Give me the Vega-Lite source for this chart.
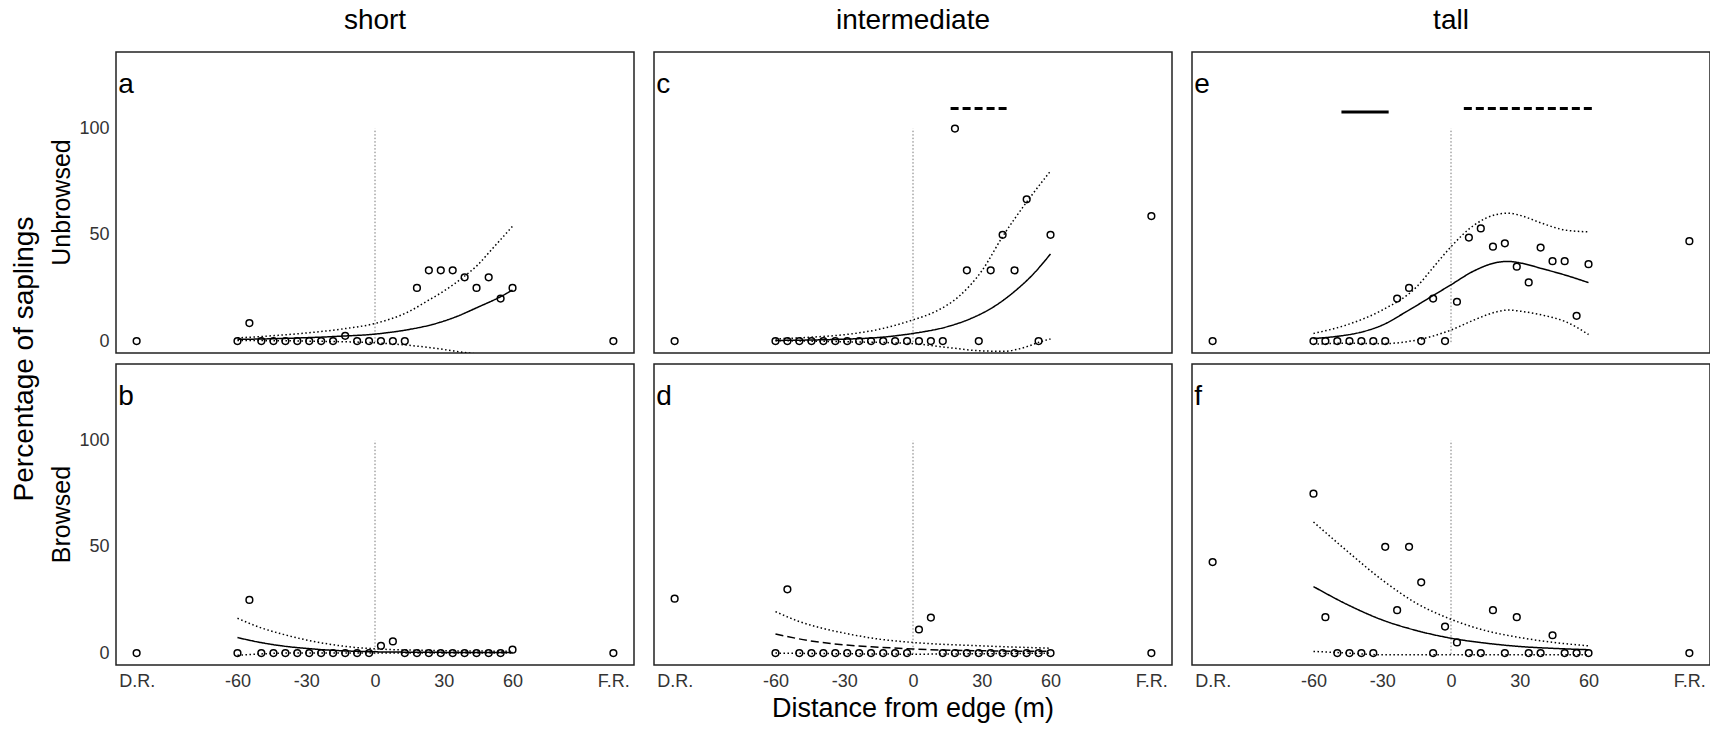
{
"$schema": "https://vega.github.io/schema/vega-lite/v6.json",
"padding": {"left": 10, "top": 6, "right": 2, "bottom": 2},
"background": "white",
"config": {
  "font": "Liberation Sans",
  "view": {"stroke": "#222", "strokeWidth": 1.5},
  "axis": {"grid": false, "ticks": false, "domain": false, "labelFont": "Liberation Sans", "labelFontSize": 18, "labelColor": "#333", "title": null}
},
"data": {"values": [
{"h":"short","b":"Unbrowsed","k":"p","x":-104,"y":0},{"h":"short","b":"Unbrowsed","k":"p","x":-60,"y":0},{"h":"short","b":"Unbrowsed","k":"p","x":-54.8,"y":8.5},{"h":"short","b":"Unbrowsed","k":"p","x":-49.6,"y":0},{"h":"short","b":"Unbrowsed","k":"p","x":-44.3,"y":0},{"h":"short","b":"Unbrowsed","k":"p","x":-39.1,"y":0},{"h":"short","b":"Unbrowsed","k":"p","x":-33.9,"y":0},{"h":"short","b":"Unbrowsed","k":"p","x":-28.7,"y":0},{"h":"short","b":"Unbrowsed","k":"p","x":-23.5,"y":0},{"h":"short","b":"Unbrowsed","k":"p","x":-18.3,"y":0},{"h":"short","b":"Unbrowsed","k":"p","x":-13,"y":2.5},{"h":"short","b":"Unbrowsed","k":"p","x":-7.8,"y":0},{"h":"short","b":"Unbrowsed","k":"p","x":-2.6,"y":0},{"h":"short","b":"Unbrowsed","k":"p","x":2.6,"y":0},{"h":"short","b":"Unbrowsed","k":"p","x":7.8,"y":0},{"h":"short","b":"Unbrowsed","k":"p","x":13,"y":0},{"h":"short","b":"Unbrowsed","k":"p","x":18.3,"y":25},{"h":"short","b":"Unbrowsed","k":"p","x":23.5,"y":33.3},{"h":"short","b":"Unbrowsed","k":"p","x":28.7,"y":33.3},{"h":"short","b":"Unbrowsed","k":"p","x":33.9,"y":33.3},{"h":"short","b":"Unbrowsed","k":"p","x":39.1,"y":30},{"h":"short","b":"Unbrowsed","k":"p","x":44.3,"y":25},{"h":"short","b":"Unbrowsed","k":"p","x":49.6,"y":30},{"h":"short","b":"Unbrowsed","k":"p","x":54.8,"y":20},{"h":"short","b":"Unbrowsed","k":"p","x":60,"y":25},{"h":"short","b":"Unbrowsed","k":"p","x":104,"y":0},
{"h":"short","b":"Browsed","k":"p","x":-104,"y":0},{"h":"short","b":"Browsed","k":"p","x":-60,"y":0},{"h":"short","b":"Browsed","k":"p","x":-54.8,"y":25},{"h":"short","b":"Browsed","k":"p","x":-49.6,"y":0},{"h":"short","b":"Browsed","k":"p","x":-44.3,"y":0},{"h":"short","b":"Browsed","k":"p","x":-39.1,"y":0},{"h":"short","b":"Browsed","k":"p","x":-33.9,"y":0},{"h":"short","b":"Browsed","k":"p","x":-28.7,"y":0},{"h":"short","b":"Browsed","k":"p","x":-23.5,"y":0},{"h":"short","b":"Browsed","k":"p","x":-18.3,"y":0},{"h":"short","b":"Browsed","k":"p","x":-13,"y":0},{"h":"short","b":"Browsed","k":"p","x":-7.8,"y":0},{"h":"short","b":"Browsed","k":"p","x":-2.6,"y":0},{"h":"short","b":"Browsed","k":"p","x":2.6,"y":3.4},{"h":"short","b":"Browsed","k":"p","x":7.8,"y":5.5},{"h":"short","b":"Browsed","k":"p","x":13,"y":0},{"h":"short","b":"Browsed","k":"p","x":18.3,"y":0},{"h":"short","b":"Browsed","k":"p","x":23.5,"y":0},{"h":"short","b":"Browsed","k":"p","x":28.7,"y":0},{"h":"short","b":"Browsed","k":"p","x":33.9,"y":0},{"h":"short","b":"Browsed","k":"p","x":39.1,"y":0},{"h":"short","b":"Browsed","k":"p","x":44.3,"y":0},{"h":"short","b":"Browsed","k":"p","x":49.6,"y":0},{"h":"short","b":"Browsed","k":"p","x":54.8,"y":0},{"h":"short","b":"Browsed","k":"p","x":60,"y":1.6},{"h":"short","b":"Browsed","k":"p","x":104,"y":0},
{"h":"intermediate","b":"Unbrowsed","k":"p","x":-104,"y":0},{"h":"intermediate","b":"Unbrowsed","k":"p","x":-60,"y":0},{"h":"intermediate","b":"Unbrowsed","k":"p","x":-54.8,"y":0},{"h":"intermediate","b":"Unbrowsed","k":"p","x":-49.6,"y":0},{"h":"intermediate","b":"Unbrowsed","k":"p","x":-44.3,"y":0},{"h":"intermediate","b":"Unbrowsed","k":"p","x":-39.1,"y":0},{"h":"intermediate","b":"Unbrowsed","k":"p","x":-33.9,"y":0},{"h":"intermediate","b":"Unbrowsed","k":"p","x":-28.7,"y":0},{"h":"intermediate","b":"Unbrowsed","k":"p","x":-23.5,"y":0},{"h":"intermediate","b":"Unbrowsed","k":"p","x":-18.3,"y":0},{"h":"intermediate","b":"Unbrowsed","k":"p","x":-13,"y":0},{"h":"intermediate","b":"Unbrowsed","k":"p","x":-7.8,"y":0},{"h":"intermediate","b":"Unbrowsed","k":"p","x":-2.6,"y":0},{"h":"intermediate","b":"Unbrowsed","k":"p","x":2.6,"y":0},{"h":"intermediate","b":"Unbrowsed","k":"p","x":7.8,"y":0},{"h":"intermediate","b":"Unbrowsed","k":"p","x":13,"y":0},{"h":"intermediate","b":"Unbrowsed","k":"p","x":18.3,"y":100},{"h":"intermediate","b":"Unbrowsed","k":"p","x":23.5,"y":33.3},{"h":"intermediate","b":"Unbrowsed","k":"p","x":28.7,"y":0},{"h":"intermediate","b":"Unbrowsed","k":"p","x":33.9,"y":33.3},{"h":"intermediate","b":"Unbrowsed","k":"p","x":39.1,"y":50},{"h":"intermediate","b":"Unbrowsed","k":"p","x":44.3,"y":33.3},{"h":"intermediate","b":"Unbrowsed","k":"p","x":49.6,"y":66.7},{"h":"intermediate","b":"Unbrowsed","k":"p","x":54.8,"y":0},{"h":"intermediate","b":"Unbrowsed","k":"p","x":60,"y":50},{"h":"intermediate","b":"Unbrowsed","k":"p","x":104,"y":58.8},
{"h":"intermediate","b":"Browsed","k":"p","x":-104,"y":25.6},{"h":"intermediate","b":"Browsed","k":"p","x":-60,"y":0},{"h":"intermediate","b":"Browsed","k":"p","x":-54.8,"y":30},{"h":"intermediate","b":"Browsed","k":"p","x":-49.6,"y":0},{"h":"intermediate","b":"Browsed","k":"p","x":-44.3,"y":0},{"h":"intermediate","b":"Browsed","k":"p","x":-39.1,"y":0},{"h":"intermediate","b":"Browsed","k":"p","x":-33.9,"y":0},{"h":"intermediate","b":"Browsed","k":"p","x":-28.7,"y":0},{"h":"intermediate","b":"Browsed","k":"p","x":-23.5,"y":0},{"h":"intermediate","b":"Browsed","k":"p","x":-18.3,"y":0},{"h":"intermediate","b":"Browsed","k":"p","x":-13,"y":0},{"h":"intermediate","b":"Browsed","k":"p","x":-7.8,"y":0},{"h":"intermediate","b":"Browsed","k":"p","x":-2.6,"y":0},{"h":"intermediate","b":"Browsed","k":"p","x":2.6,"y":11.1},{"h":"intermediate","b":"Browsed","k":"p","x":7.8,"y":16.7},{"h":"intermediate","b":"Browsed","k":"p","x":13,"y":0},{"h":"intermediate","b":"Browsed","k":"p","x":18.3,"y":0},{"h":"intermediate","b":"Browsed","k":"p","x":23.5,"y":0},{"h":"intermediate","b":"Browsed","k":"p","x":28.7,"y":0},{"h":"intermediate","b":"Browsed","k":"p","x":33.9,"y":0},{"h":"intermediate","b":"Browsed","k":"p","x":39.1,"y":0},{"h":"intermediate","b":"Browsed","k":"p","x":44.3,"y":0},{"h":"intermediate","b":"Browsed","k":"p","x":49.6,"y":0},{"h":"intermediate","b":"Browsed","k":"p","x":54.8,"y":0},{"h":"intermediate","b":"Browsed","k":"p","x":60,"y":0},{"h":"intermediate","b":"Browsed","k":"p","x":104,"y":0},
{"h":"tall","b":"Unbrowsed","k":"p","x":-104,"y":0},{"h":"tall","b":"Unbrowsed","k":"p","x":-60,"y":0},{"h":"tall","b":"Unbrowsed","k":"p","x":-54.8,"y":0},{"h":"tall","b":"Unbrowsed","k":"p","x":-49.6,"y":0},{"h":"tall","b":"Unbrowsed","k":"p","x":-44.3,"y":0},{"h":"tall","b":"Unbrowsed","k":"p","x":-39.1,"y":0},{"h":"tall","b":"Unbrowsed","k":"p","x":-33.9,"y":0},{"h":"tall","b":"Unbrowsed","k":"p","x":-28.7,"y":0},{"h":"tall","b":"Unbrowsed","k":"p","x":-23.5,"y":20},{"h":"tall","b":"Unbrowsed","k":"p","x":-18.3,"y":25},{"h":"tall","b":"Unbrowsed","k":"p","x":-13,"y":0},{"h":"tall","b":"Unbrowsed","k":"p","x":-7.8,"y":20},{"h":"tall","b":"Unbrowsed","k":"p","x":-2.6,"y":0},{"h":"tall","b":"Unbrowsed","k":"p","x":2.6,"y":18.5},{"h":"tall","b":"Unbrowsed","k":"p","x":7.8,"y":48.7},{"h":"tall","b":"Unbrowsed","k":"p","x":13,"y":53},{"h":"tall","b":"Unbrowsed","k":"p","x":18.3,"y":44.4},{"h":"tall","b":"Unbrowsed","k":"p","x":23.5,"y":46},{"h":"tall","b":"Unbrowsed","k":"p","x":28.7,"y":35},{"h":"tall","b":"Unbrowsed","k":"p","x":33.9,"y":27.6},{"h":"tall","b":"Unbrowsed","k":"p","x":39.1,"y":44},{"h":"tall","b":"Unbrowsed","k":"p","x":44.3,"y":37.6},{"h":"tall","b":"Unbrowsed","k":"p","x":49.6,"y":37.6},{"h":"tall","b":"Unbrowsed","k":"p","x":54.8,"y":11.9},{"h":"tall","b":"Unbrowsed","k":"p","x":60,"y":36.2},{"h":"tall","b":"Unbrowsed","k":"p","x":104,"y":47},
{"h":"tall","b":"Browsed","k":"p","x":-104,"y":42.8},{"h":"tall","b":"Browsed","k":"p","x":-60,"y":75},{"h":"tall","b":"Browsed","k":"p","x":-54.8,"y":16.9},{"h":"tall","b":"Browsed","k":"p","x":-49.6,"y":0},{"h":"tall","b":"Browsed","k":"p","x":-44.3,"y":0},{"h":"tall","b":"Browsed","k":"p","x":-39.1,"y":0},{"h":"tall","b":"Browsed","k":"p","x":-33.9,"y":0},{"h":"tall","b":"Browsed","k":"p","x":-28.7,"y":50},{"h":"tall","b":"Browsed","k":"p","x":-23.5,"y":20.2},{"h":"tall","b":"Browsed","k":"p","x":-18.3,"y":50},{"h":"tall","b":"Browsed","k":"p","x":-13,"y":33.3},{"h":"tall","b":"Browsed","k":"p","x":-7.8,"y":0},{"h":"tall","b":"Browsed","k":"p","x":-2.6,"y":12.5},{"h":"tall","b":"Browsed","k":"p","x":2.6,"y":5},{"h":"tall","b":"Browsed","k":"p","x":7.8,"y":0},{"h":"tall","b":"Browsed","k":"p","x":13,"y":0},{"h":"tall","b":"Browsed","k":"p","x":18.3,"y":20.2},{"h":"tall","b":"Browsed","k":"p","x":23.5,"y":0},{"h":"tall","b":"Browsed","k":"p","x":28.7,"y":16.9},{"h":"tall","b":"Browsed","k":"p","x":33.9,"y":0},{"h":"tall","b":"Browsed","k":"p","x":39.1,"y":0},{"h":"tall","b":"Browsed","k":"p","x":44.3,"y":8.4},{"h":"tall","b":"Browsed","k":"p","x":49.6,"y":0},{"h":"tall","b":"Browsed","k":"p","x":54.8,"y":0},{"h":"tall","b":"Browsed","k":"p","x":60,"y":0},{"h":"tall","b":"Browsed","k":"p","x":104,"y":0},

{"h":"short","b":"Unbrowsed","k":"c","s":"fit","st":"solid","x":-60,"y":0.8},{"h":"short","b":"Unbrowsed","k":"c","s":"fit","st":"solid","x":-45,"y":1.1},{"h":"short","b":"Unbrowsed","k":"c","s":"fit","st":"solid","x":-30,"y":1.6},{"h":"short","b":"Unbrowsed","k":"c","s":"fit","st":"solid","x":-15,"y":2.3},{"h":"short","b":"Unbrowsed","k":"c","s":"fit","st":"solid","x":0,"y":3.3},{"h":"short","b":"Unbrowsed","k":"c","s":"fit","st":"solid","x":15,"y":5.5},{"h":"short","b":"Unbrowsed","k":"c","s":"fit","st":"solid","x":25,"y":7.8},{"h":"short","b":"Unbrowsed","k":"c","s":"fit","st":"solid","x":35,"y":11.3},{"h":"short","b":"Unbrowsed","k":"c","s":"fit","st":"solid","x":45,"y":16},{"h":"short","b":"Unbrowsed","k":"c","s":"fit","st":"solid","x":55,"y":21},{"h":"short","b":"Unbrowsed","k":"c","s":"fit","st":"solid","x":60,"y":24},
{"h":"short","b":"Unbrowsed","k":"c","s":"up","st":"dotted","x":-60,"y":1.5},{"h":"short","b":"Unbrowsed","k":"c","s":"up","st":"dotted","x":-45,"y":2.5},{"h":"short","b":"Unbrowsed","k":"c","s":"up","st":"dotted","x":-30,"y":3.8},{"h":"short","b":"Unbrowsed","k":"c","s":"up","st":"dotted","x":-15,"y":5.6},{"h":"short","b":"Unbrowsed","k":"c","s":"up","st":"dotted","x":0,"y":8.3},{"h":"short","b":"Unbrowsed","k":"c","s":"up","st":"dotted","x":15,"y":14},{"h":"short","b":"Unbrowsed","k":"c","s":"up","st":"dotted","x":23,"y":19},{"h":"short","b":"Unbrowsed","k":"c","s":"up","st":"dotted","x":30,"y":23.5},{"h":"short","b":"Unbrowsed","k":"c","s":"up","st":"dotted","x":39,"y":30.5},{"h":"short","b":"Unbrowsed","k":"c","s":"up","st":"dotted","x":45,"y":36},{"h":"short","b":"Unbrowsed","k":"c","s":"up","st":"dotted","x":50,"y":42},{"h":"short","b":"Unbrowsed","k":"c","s":"up","st":"dotted","x":55,"y":48},{"h":"short","b":"Unbrowsed","k":"c","s":"up","st":"dotted","x":60,"y":54},
{"h":"short","b":"Unbrowsed","k":"c","s":"lo","st":"dotted","x":-60,"y":0.3},{"h":"short","b":"Unbrowsed","k":"c","s":"lo","st":"dotted","x":-30,"y":0},{"h":"short","b":"Unbrowsed","k":"c","s":"lo","st":"dotted","x":0,"y":-0.8},{"h":"short","b":"Unbrowsed","k":"c","s":"lo","st":"dotted","x":15,"y":-2},{"h":"short","b":"Unbrowsed","k":"c","s":"lo","st":"dotted","x":25,"y":-3.2},{"h":"short","b":"Unbrowsed","k":"c","s":"lo","st":"dotted","x":38,"y":-5.2},{"h":"short","b":"Unbrowsed","k":"c","s":"lo","st":"dotted","x":50,"y":-7},{"h":"short","b":"Unbrowsed","k":"c","s":"lo","st":"dotted","x":60,"y":-9},

{"h":"short","b":"Browsed","k":"c","s":"fit","st":"solid","x":-60,"y":7.3},{"h":"short","b":"Browsed","k":"c","s":"fit","st":"solid","x":-50,"y":5},{"h":"short","b":"Browsed","k":"c","s":"fit","st":"solid","x":-40,"y":3.3},{"h":"short","b":"Browsed","k":"c","s":"fit","st":"solid","x":-30,"y":2.2},{"h":"short","b":"Browsed","k":"c","s":"fit","st":"solid","x":-20,"y":1.4},{"h":"short","b":"Browsed","k":"c","s":"fit","st":"solid","x":-10,"y":0.9},{"h":"short","b":"Browsed","k":"c","s":"fit","st":"solid","x":0,"y":0.6},{"h":"short","b":"Browsed","k":"c","s":"fit","st":"solid","x":20,"y":0.4},{"h":"short","b":"Browsed","k":"c","s":"fit","st":"solid","x":40,"y":0.3},{"h":"short","b":"Browsed","k":"c","s":"fit","st":"solid","x":60,"y":0.3},
{"h":"short","b":"Browsed","k":"c","s":"up","st":"dotted","x":-60,"y":16.4},{"h":"short","b":"Browsed","k":"c","s":"up","st":"dotted","x":-50,"y":12},{"h":"short","b":"Browsed","k":"c","s":"up","st":"dotted","x":-40,"y":8.8},{"h":"short","b":"Browsed","k":"c","s":"up","st":"dotted","x":-30,"y":6.2},{"h":"short","b":"Browsed","k":"c","s":"up","st":"dotted","x":-20,"y":4.2},{"h":"short","b":"Browsed","k":"c","s":"up","st":"dotted","x":-10,"y":2.8},{"h":"short","b":"Browsed","k":"c","s":"up","st":"dotted","x":0,"y":2},{"h":"short","b":"Browsed","k":"c","s":"up","st":"dotted","x":20,"y":1.3},{"h":"short","b":"Browsed","k":"c","s":"up","st":"dotted","x":40,"y":1},{"h":"short","b":"Browsed","k":"c","s":"up","st":"dotted","x":60,"y":0.9},
{"h":"short","b":"Browsed","k":"c","s":"lo","st":"dotted","x":-60,"y":-1},{"h":"short","b":"Browsed","k":"c","s":"lo","st":"dotted","x":-50,"y":-0.4},{"h":"short","b":"Browsed","k":"c","s":"lo","st":"dotted","x":-40,"y":0},{"h":"short","b":"Browsed","k":"c","s":"lo","st":"dotted","x":-20,"y":0.1},{"h":"short","b":"Browsed","k":"c","s":"lo","st":"dotted","x":0,"y":0.1},{"h":"short","b":"Browsed","k":"c","s":"lo","st":"dotted","x":30,"y":0},{"h":"short","b":"Browsed","k":"c","s":"lo","st":"dotted","x":60,"y":0},

{"h":"intermediate","b":"Unbrowsed","k":"c","s":"fit","st":"solid","x":-60,"y":0.3},{"h":"intermediate","b":"Unbrowsed","k":"c","s":"fit","st":"solid","x":-45,"y":0.5},{"h":"intermediate","b":"Unbrowsed","k":"c","s":"fit","st":"solid","x":-30,"y":0.9},{"h":"intermediate","b":"Unbrowsed","k":"c","s":"fit","st":"solid","x":-15,"y":1.7},{"h":"intermediate","b":"Unbrowsed","k":"c","s":"fit","st":"solid","x":0,"y":3.6},{"h":"intermediate","b":"Unbrowsed","k":"c","s":"fit","st":"solid","x":15,"y":6.8},{"h":"intermediate","b":"Unbrowsed","k":"c","s":"fit","st":"solid","x":25,"y":10.5},{"h":"intermediate","b":"Unbrowsed","k":"c","s":"fit","st":"solid","x":35,"y":16},{"h":"intermediate","b":"Unbrowsed","k":"c","s":"fit","st":"solid","x":45,"y":24},{"h":"intermediate","b":"Unbrowsed","k":"c","s":"fit","st":"solid","x":52,"y":31},{"h":"intermediate","b":"Unbrowsed","k":"c","s":"fit","st":"solid","x":60,"y":41},
{"h":"intermediate","b":"Unbrowsed","k":"c","s":"up","st":"dotted","x":-60,"y":1},{"h":"intermediate","b":"Unbrowsed","k":"c","s":"up","st":"dotted","x":-45,"y":1.8},{"h":"intermediate","b":"Unbrowsed","k":"c","s":"up","st":"dotted","x":-30,"y":3},{"h":"intermediate","b":"Unbrowsed","k":"c","s":"up","st":"dotted","x":-15,"y":5.5},{"h":"intermediate","b":"Unbrowsed","k":"c","s":"up","st":"dotted","x":0,"y":10},{"h":"intermediate","b":"Unbrowsed","k":"c","s":"up","st":"dotted","x":10,"y":14},{"h":"intermediate","b":"Unbrowsed","k":"c","s":"up","st":"dotted","x":20,"y":21},{"h":"intermediate","b":"Unbrowsed","k":"c","s":"up","st":"dotted","x":30,"y":33},{"h":"intermediate","b":"Unbrowsed","k":"c","s":"up","st":"dotted","x":39,"y":49},{"h":"intermediate","b":"Unbrowsed","k":"c","s":"up","st":"dotted","x":50,"y":66},{"h":"intermediate","b":"Unbrowsed","k":"c","s":"up","st":"dotted","x":60,"y":80},
{"h":"intermediate","b":"Unbrowsed","k":"c","s":"lo","st":"dotted","x":-60,"y":0.2},{"h":"intermediate","b":"Unbrowsed","k":"c","s":"lo","st":"dotted","x":-30,"y":-0.3},{"h":"intermediate","b":"Unbrowsed","k":"c","s":"lo","st":"dotted","x":0,"y":-1.2},{"h":"intermediate","b":"Unbrowsed","k":"c","s":"lo","st":"dotted","x":15,"y":-3},{"h":"intermediate","b":"Unbrowsed","k":"c","s":"lo","st":"dotted","x":30,"y":-4.6},{"h":"intermediate","b":"Unbrowsed","k":"c","s":"lo","st":"dotted","x":40,"y":-4.8},{"h":"intermediate","b":"Unbrowsed","k":"c","s":"lo","st":"dotted","x":45,"y":-4},{"h":"intermediate","b":"Unbrowsed","k":"c","s":"lo","st":"dotted","x":50,"y":-2.5},{"h":"intermediate","b":"Unbrowsed","k":"c","s":"lo","st":"dotted","x":55,"y":-0.5},{"h":"intermediate","b":"Unbrowsed","k":"c","s":"lo","st":"dotted","x":60,"y":1},

{"h":"intermediate","b":"Browsed","k":"c","s":"fit","st":"dashed","x":-60,"y":9},{"h":"intermediate","b":"Browsed","k":"c","s":"fit","st":"dashed","x":-45,"y":5.8},{"h":"intermediate","b":"Browsed","k":"c","s":"fit","st":"dashed","x":-30,"y":3.9},{"h":"intermediate","b":"Browsed","k":"c","s":"fit","st":"dashed","x":-15,"y":2.8},{"h":"intermediate","b":"Browsed","k":"c","s":"fit","st":"dashed","x":0,"y":1.9},{"h":"intermediate","b":"Browsed","k":"c","s":"fit","st":"dashed","x":30,"y":1.1},{"h":"intermediate","b":"Browsed","k":"c","s":"fit","st":"dashed","x":60,"y":0.8},
{"h":"intermediate","b":"Browsed","k":"c","s":"up","st":"dotted","x":-60,"y":19.5},{"h":"intermediate","b":"Browsed","k":"c","s":"up","st":"dotted","x":-50,"y":15},{"h":"intermediate","b":"Browsed","k":"c","s":"up","st":"dotted","x":-40,"y":11.8},{"h":"intermediate","b":"Browsed","k":"c","s":"up","st":"dotted","x":-30,"y":9.4},{"h":"intermediate","b":"Browsed","k":"c","s":"up","st":"dotted","x":-15,"y":6.6},{"h":"intermediate","b":"Browsed","k":"c","s":"up","st":"dotted","x":0,"y":5},{"h":"intermediate","b":"Browsed","k":"c","s":"up","st":"dotted","x":30,"y":3.4},{"h":"intermediate","b":"Browsed","k":"c","s":"up","st":"dotted","x":60,"y":2.3},
{"h":"intermediate","b":"Browsed","k":"c","s":"lo","st":"dotted","x":-60,"y":0},{"h":"intermediate","b":"Browsed","k":"c","s":"lo","st":"dotted","x":-30,"y":-0.3},{"h":"intermediate","b":"Browsed","k":"c","s":"lo","st":"dotted","x":0,"y":-0.5},{"h":"intermediate","b":"Browsed","k":"c","s":"lo","st":"dotted","x":30,"y":-0.3},{"h":"intermediate","b":"Browsed","k":"c","s":"lo","st":"dotted","x":60,"y":0},

{"h":"tall","b":"Unbrowsed","k":"c","s":"fit","st":"solid","x":-60,"y":1.2},{"h":"tall","b":"Unbrowsed","k":"c","s":"fit","st":"solid","x":-50,"y":2.2},{"h":"tall","b":"Unbrowsed","k":"c","s":"fit","st":"solid","x":-40,"y":4},{"h":"tall","b":"Unbrowsed","k":"c","s":"fit","st":"solid","x":-30,"y":7.5},{"h":"tall","b":"Unbrowsed","k":"c","s":"fit","st":"solid","x":-20,"y":13.5},{"h":"tall","b":"Unbrowsed","k":"c","s":"fit","st":"solid","x":-10,"y":20},{"h":"tall","b":"Unbrowsed","k":"c","s":"fit","st":"solid","x":0,"y":26.5},{"h":"tall","b":"Unbrowsed","k":"c","s":"fit","st":"solid","x":10,"y":33},{"h":"tall","b":"Unbrowsed","k":"c","s":"fit","st":"solid","x":20,"y":37},{"h":"tall","b":"Unbrowsed","k":"c","s":"fit","st":"solid","x":25,"y":37.5},{"h":"tall","b":"Unbrowsed","k":"c","s":"fit","st":"solid","x":30,"y":36.8},{"h":"tall","b":"Unbrowsed","k":"c","s":"fit","st":"solid","x":40,"y":34},{"h":"tall","b":"Unbrowsed","k":"c","s":"fit","st":"solid","x":50,"y":31},{"h":"tall","b":"Unbrowsed","k":"c","s":"fit","st":"solid","x":60,"y":27.5},
{"h":"tall","b":"Unbrowsed","k":"c","s":"up","st":"dotted","x":-60,"y":3.6},{"h":"tall","b":"Unbrowsed","k":"c","s":"up","st":"dotted","x":-45,"y":7.8},{"h":"tall","b":"Unbrowsed","k":"c","s":"up","st":"dotted","x":-30,"y":14.6},{"h":"tall","b":"Unbrowsed","k":"c","s":"up","st":"dotted","x":-15,"y":25.5},{"h":"tall","b":"Unbrowsed","k":"c","s":"up","st":"dotted","x":-7.5,"y":35},{"h":"tall","b":"Unbrowsed","k":"c","s":"up","st":"dotted","x":0,"y":44.4},{"h":"tall","b":"Unbrowsed","k":"c","s":"up","st":"dotted","x":10,"y":54.5},{"h":"tall","b":"Unbrowsed","k":"c","s":"up","st":"dotted","x":20,"y":59.6},{"h":"tall","b":"Unbrowsed","k":"c","s":"up","st":"dotted","x":25,"y":60.2},{"h":"tall","b":"Unbrowsed","k":"c","s":"up","st":"dotted","x":30,"y":59.2},{"h":"tall","b":"Unbrowsed","k":"c","s":"up","st":"dotted","x":40,"y":55.3},{"h":"tall","b":"Unbrowsed","k":"c","s":"up","st":"dotted","x":50,"y":52.2},{"h":"tall","b":"Unbrowsed","k":"c","s":"up","st":"dotted","x":60,"y":51.4},
{"h":"tall","b":"Unbrowsed","k":"c","s":"lo","st":"dotted","x":-60,"y":-1.5},{"h":"tall","b":"Unbrowsed","k":"c","s":"lo","st":"dotted","x":-45,"y":-1},{"h":"tall","b":"Unbrowsed","k":"c","s":"lo","st":"dotted","x":-30,"y":-1.2},{"h":"tall","b":"Unbrowsed","k":"c","s":"lo","st":"dotted","x":-15,"y":0.5},{"h":"tall","b":"Unbrowsed","k":"c","s":"lo","st":"dotted","x":0,"y":5.2},{"h":"tall","b":"Unbrowsed","k":"c","s":"lo","st":"dotted","x":10,"y":9.9},{"h":"tall","b":"Unbrowsed","k":"c","s":"lo","st":"dotted","x":20,"y":13.8},{"h":"tall","b":"Unbrowsed","k":"c","s":"lo","st":"dotted","x":25,"y":14.6},{"h":"tall","b":"Unbrowsed","k":"c","s":"lo","st":"dotted","x":30,"y":14.1},{"h":"tall","b":"Unbrowsed","k":"c","s":"lo","st":"dotted","x":40,"y":12.2},{"h":"tall","b":"Unbrowsed","k":"c","s":"lo","st":"dotted","x":50,"y":9.1},{"h":"tall","b":"Unbrowsed","k":"c","s":"lo","st":"dotted","x":60,"y":3.1},

{"h":"tall","b":"Browsed","k":"c","s":"fit","st":"solid","x":-60,"y":31.3},{"h":"tall","b":"Browsed","k":"c","s":"fit","st":"solid","x":-45,"y":22.7},{"h":"tall","b":"Browsed","k":"c","s":"fit","st":"solid","x":-30,"y":15.6},{"h":"tall","b":"Browsed","k":"c","s":"fit","st":"solid","x":-15,"y":10.6},{"h":"tall","b":"Browsed","k":"c","s":"fit","st":"solid","x":0,"y":7},{"h":"tall","b":"Browsed","k":"c","s":"fit","st":"solid","x":15,"y":4.7},{"h":"tall","b":"Browsed","k":"c","s":"fit","st":"solid","x":30,"y":3.1},{"h":"tall","b":"Browsed","k":"c","s":"fit","st":"solid","x":45,"y":2.2},{"h":"tall","b":"Browsed","k":"c","s":"fit","st":"solid","x":60,"y":1.6},
{"h":"tall","b":"Browsed","k":"c","s":"up","st":"dotted","x":-60,"y":61.7},{"h":"tall","b":"Browsed","k":"c","s":"up","st":"dotted","x":-45,"y":47.7},{"h":"tall","b":"Browsed","k":"c","s":"up","st":"dotted","x":-30,"y":34.4},{"h":"tall","b":"Browsed","k":"c","s":"up","st":"dotted","x":-15,"y":23.4},{"h":"tall","b":"Browsed","k":"c","s":"up","st":"dotted","x":0,"y":15.9},{"h":"tall","b":"Browsed","k":"c","s":"up","st":"dotted","x":15,"y":10.6},{"h":"tall","b":"Browsed","k":"c","s":"up","st":"dotted","x":30,"y":7.3},{"h":"tall","b":"Browsed","k":"c","s":"up","st":"dotted","x":45,"y":5},{"h":"tall","b":"Browsed","k":"c","s":"up","st":"dotted","x":60,"y":3.4},
{"h":"tall","b":"Browsed","k":"c","s":"lo","st":"dotted","x":-60,"y":0.8},{"h":"tall","b":"Browsed","k":"c","s":"lo","st":"dotted","x":-45,"y":0},{"h":"tall","b":"Browsed","k":"c","s":"lo","st":"dotted","x":-30,"y":-0.8},{"h":"tall","b":"Browsed","k":"c","s":"lo","st":"dotted","x":0,"y":-0.8},{"h":"tall","b":"Browsed","k":"c","s":"lo","st":"dotted","x":30,"y":-0.8},{"h":"tall","b":"Browsed","k":"c","s":"lo","st":"dotted","x":60,"y":-0.8},

{"h":"intermediate","b":"Unbrowsed","k":"bar","st":"dashed","x":16.4,"x2":41.1,"y":109.4},
{"h":"tall","b":"Unbrowsed","k":"bar","st":"solid","x":-47.8,"x2":-27.2,"y":107.8},
{"h":"tall","b":"Unbrowsed","k":"bar","st":"dashed","x":5.6,"x2":62.4,"y":109.4},

{"h":"short","b":"Unbrowsed","k":"v","x":0,"y":-0.5,"y2":100},{"h":"short","b":"Browsed","k":"v","x":0,"y":-0.5,"y2":100},{"h":"intermediate","b":"Unbrowsed","k":"v","x":0,"y":-0.5,"y2":100},{"h":"intermediate","b":"Browsed","k":"v","x":0,"y":-0.5,"y2":100},{"h":"tall","b":"Unbrowsed","k":"v","x":0,"y":-0.5,"y2":100},{"h":"tall","b":"Browsed","k":"v","x":0,"y":-0.5,"y2":100},

{"h":"short","b":"Unbrowsed","k":"t","x":-112,"y":120.5,"t":"a"},{"h":"short","b":"Browsed","k":"t","x":-112,"y":120.5,"t":"b"},{"h":"intermediate","b":"Unbrowsed","k":"t","x":-112,"y":120.5,"t":"c"},{"h":"intermediate","b":"Browsed","k":"t","x":-112,"y":120.5,"t":"d"},{"h":"tall","b":"Unbrowsed","k":"t","x":-112,"y":120.5,"t":"e"},{"h":"tall","b":"Browsed","k":"t","x":-112,"y":120.5,"t":"f"}
]},
"facet": {
  "row": {"field": "b", "type": "nominal", "sort": ["Unbrowsed", "Browsed"], "title": "Percentage of saplings",
    "header": {"labelOrient": "left", "titleOrient": "left", "labelAngle": -90, "labelFont": "Liberation Sans", "labelFontSize": 25, "labelColor": "black", "labelPadding": -8, "titleFont": "Liberation Sans", "titleFontSize": 28, "titleFontWeight": "normal", "titleColor": "black", "titlePadding": 0}},
  "column": {"field": "h", "type": "nominal", "sort": ["short", "intermediate", "tall"], "title": "Distance from edge (m)",
    "header": {"labelOrient": "top", "titleOrient": "bottom", "labelFont": "Liberation Sans", "labelFontSize": 28, "labelColor": "black", "labelPadding": 16.5, "titleFont": "Liberation Sans", "titleFontSize": 27, "titleFontWeight": "normal", "titleColor": "black", "titlePadding": -4}}
},
"spacing": {"row": 9, "column": 18},
"spec": {
  "width": 518,
  "height": 301,
  "encoding": {
    "x": {"field": "x", "type": "quantitative", "scale": {"domain": [-113, 113], "nice": false, "zero": false},
      "axis": {"values": [-104, -60, -30, 0, 30, 60, 104], "labelExpr": "datum.value == -104 ? 'D.R.' : (datum.value == 104 ? 'F.R.' : '' + datum.value)", "labelPadding": 6, "labelFlush": false, "labelOverlap": false}},
    "y": {"field": "y", "type": "quantitative", "scale": {"domain": [-5.6, 136], "nice": false, "zero": false},
      "axis": {"values": [0, 50, 100], "labelPadding": 6}}
  },
  "layer": [
    {"transform": [{"filter": "datum.k == 'v'"}],
     "mark": {"type": "rule", "color": "#777", "strokeWidth": 1, "strokeDash": [1.5, 2]},
     "encoding": {"y2": {"field": "y2"}}},
    {"transform": [{"filter": "datum.k == 'c'"}],
     "mark": {"type": "line", "clip": true, "color": "black", "strokeWidth": 1.5, "interpolate": "monotone"},
     "encoding": {"detail": {"field": "s"},
       "strokeDash": {"field": "st", "type": "nominal", "scale": {"domain": ["solid", "dashed", "dotted"], "range": [[1, 0], [8, 4], [1.5, 2.5]]}, "legend": null}}},
    {"transform": [{"filter": "datum.k == 'bar'"}],
     "mark": {"type": "rule", "color": "black", "strokeWidth": 3},
     "encoding": {"x2": {"field": "x2"},
       "strokeDash": {"field": "st", "type": "nominal", "scale": {"domain": ["solid", "dashed", "dotted"], "range": [[1, 0], [8, 4], [1.5, 2.5]]}, "legend": null}}},
    {"transform": [{"filter": "datum.k == 'p'"}],
     "mark": {"type": "point", "shape": "circle", "filled": false, "color": "black", "strokeWidth": 1.5, "size": 45, "opacity": 1}},
    {"transform": [{"filter": "datum.k == 't'"}],
     "mark": {"type": "text", "align": "left", "baseline": "middle", "fontSize": 28, "font": "Liberation Sans", "color": "black"},
     "encoding": {"text": {"field": "t"}}}
  ]
}
}
